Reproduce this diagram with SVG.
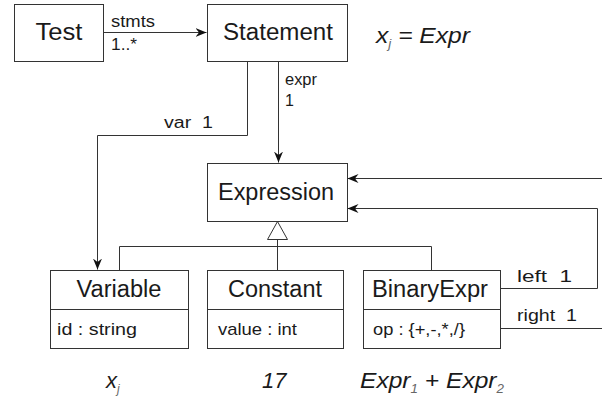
<svg xmlns="http://www.w3.org/2000/svg" width="602" height="398" viewBox="0 0 602 398">
  <style>
    .box { fill: #ffffff; stroke: #333333; stroke-width: 1; }
    .sep { stroke: #333333; stroke-width: 1; }
    .conn { fill: none; stroke: #333333; stroke-width: 1; }
    .name { font-family: "Liberation Sans", Arial, sans-serif; font-size: 23px; fill: #1a1a1a; text-anchor: middle; }
    .attr { font-family: "Liberation Sans", Arial, sans-serif; font-size: 17px; fill: #1a1a1a; }
    .lbl { font-family: "Liberation Sans", Arial, sans-serif; font-size: 16px; fill: #1a1a1a; }
    .note { font-family: "Liberation Sans", Arial, sans-serif; font-size: 22px; font-style: italic; fill: #1a1a1a; }
    .sub { font-size: 12px; fill: #666666; }
  </style>
  <defs>
    <marker id="arrow" markerUnits="userSpaceOnUse" markerWidth="12" markerHeight="10" viewBox="0 0 12 10" refX="11" refY="5" orient="auto">
      <path d="M0,0.5 L11,5 L0,9.5 L3.5,5 Z" fill="#111111"/>
    </marker>
  </defs>
  <rect width="602" height="398" fill="#ffffff"/>

  <g id="connectors">
    <path class="conn" d="M103.5,32.5 H206.5" marker-end="url(#arrow)"/>
    <path class="conn" d="M247.5,61 V135.5 H97.5 V269.5" marker-end="url(#arrow)"/>
    <path class="conn" d="M278.5,61 V162.5" marker-end="url(#arrow)"/>
    <path class="conn" d="M119.5,270 V246.5 H431.5 V270"/>
    <path class="conn" d="M277.5,270 V239.5"/>
    <polygon points="277.5,221.5 267.5,239.5 287.5,239.5" fill="#ffffff" stroke="#333333" stroke-width="1"/>
    <path class="conn" d="M500,288.5 H597.5 V208.5 H347.5" marker-end="url(#arrow)"/>
    <path class="conn" d="M500,328.5 H602"/>
    <path class="conn" d="M602,178.5 H347.5" marker-end="url(#arrow)"/>
    <text class="lbl" x="111" y="27" textLength="44" lengthAdjust="spacingAndGlyphs">stmts</text>
    <text class="lbl" x="111" y="50" textLength="26" lengthAdjust="spacingAndGlyphs">1..*</text>
    <text class="lbl" x="285" y="85" textLength="32" lengthAdjust="spacingAndGlyphs">expr</text>
    <text class="lbl" x="285" y="106">1</text>
    <text class="lbl" x="164" y="128" textLength="49" lengthAdjust="spacingAndGlyphs" xml:space="preserve">var  1</text>
    <text class="lbl" x="517" y="282" textLength="55" lengthAdjust="spacingAndGlyphs" xml:space="preserve">left  1</text>
    <text class="lbl" x="517" y="321" textLength="60" lengthAdjust="spacingAndGlyphs" xml:space="preserve">right  1</text>
  </g>

  <g id="test">
    <rect class="box" x="14.5" y="4.5" width="89" height="57"/>
    <text class="name" x="59" y="40" textLength="47" lengthAdjust="spacingAndGlyphs">Test</text>
  </g>

  <g id="statement">
    <rect class="box" x="207.5" y="4.5" width="140" height="57"/>
    <text class="name" x="278" y="40" textLength="110" lengthAdjust="spacingAndGlyphs">Statement</text>
  </g>

  <g id="expression">
    <rect class="box" x="207.5" y="163.5" width="140" height="58"/>
    <text class="name" x="276" y="200" textLength="116" lengthAdjust="spacingAndGlyphs">Expression</text>
  </g>

  <g id="variable">
    <rect class="box" x="50.5" y="270.5" width="138" height="78"/>
    <line class="sep" x1="50.5" y1="309.5" x2="188.5" y2="309.5"/>
    <text class="name" x="119" y="297" textLength="85" lengthAdjust="spacingAndGlyphs">Variable</text>
    <text class="attr" x="57" y="335" textLength="80" lengthAdjust="spacingAndGlyphs">id : string</text>
  </g>

  <g id="constant">
    <rect class="box" x="207.5" y="270.5" width="136" height="78"/>
    <line class="sep" x1="207.5" y1="309.5" x2="343.5" y2="309.5"/>
    <text class="name" x="275" y="297" textLength="94" lengthAdjust="spacingAndGlyphs">Constant</text>
    <text class="attr" x="218" y="335" textLength="79" lengthAdjust="spacingAndGlyphs">value : int</text>
  </g>

  <g id="binaryexpr">
    <rect class="box" x="363.5" y="270.5" width="137" height="78"/>
    <line class="sep" x1="363.5" y1="309.5" x2="500.5" y2="309.5"/>
    <text class="name" x="430" y="297" textLength="116" lengthAdjust="spacingAndGlyphs">BinaryExpr</text>
    <text class="attr" x="373" y="335" textLength="92" lengthAdjust="spacingAndGlyphs">op : {+,-,*,/}</text>
  </g>

  <g id="notes">
    <text class="note" x="376" y="43" textLength="94" lengthAdjust="spacingAndGlyphs">x<tspan class="sub" dy="5">j</tspan><tspan dy="-5"> = Expr</tspan></text>
    <text class="note" x="106" y="388">x<tspan class="sub" dy="5">j</tspan></text>
    <text class="note" x="262" y="388">17</text>
    <text class="note" x="360" y="388" textLength="144" lengthAdjust="spacingAndGlyphs">Expr<tspan class="sub" dy="5">1</tspan><tspan dy="-5"> + Expr</tspan><tspan class="sub" dy="5">2</tspan></text>
  </g>
</svg>
